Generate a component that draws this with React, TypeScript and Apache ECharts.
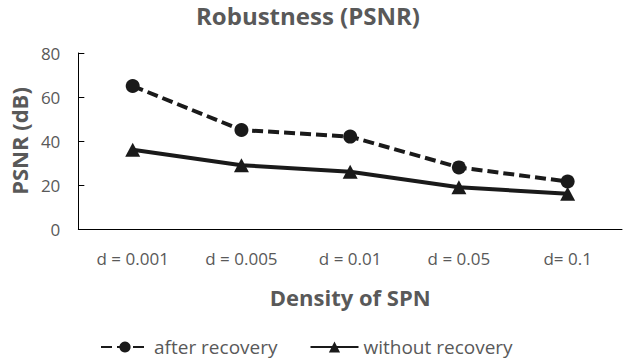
import React, { useEffect, useRef } from "react";
import * as echarts from "echarts";

const categories = ["d = 0.001", "d = 0.005", "d = 0.01", "d = 0.05", "d= 0.1"];
const afterRecovery = [65, 45, 42, 28, 21.6];
const withoutRecovery = [36, 29, 26, 19, 16];
const yTicks = { min: 0, max: 80, interval: 20 };

const FONT = "'Open Sans', sans-serif";
const GREY = "#595959";
const INK = "#1a1a1a";

export default function App() {
  const ref = useRef<HTMLDivElement>(null);
  useEffect(() => {
    if (!ref.current) return;
    const chart = echarts.init(ref.current, undefined, { renderer: "svg" });
    chart.setOption({
      animation: false,
      textStyle: { fontFamily: FONT },
      graphic: [
        {
          type: "text",
          x: 308,
          y: 15,
          style: {
            text: "Robustness (PSNR)",
            fill: GREY,
            font: `bold 24px ${FONT}`,
            textAlign: "center",
            textVerticalAlign: "middle",
          },
        },
      ],
      grid: { left: 74, right: 5, top: 53, bottom: 134, containLabel: false },
      legend: {
        left: 100,
        top: 336,
        padding: 0,
        itemWidth: 48,
        itemHeight: 14,
        itemGap: 32,
        textStyle: { color: GREY, fontSize: 19, fontFamily: FONT, lineHeight: 22 },
        data: ["after recovery", "without recovery"],
      },
      xAxis: {
        type: "category",
        data: categories,
        axisLine: { lineStyle: { color: "#000", width: 1 } },
        axisTick: { inside: true, length: 5, alignWithLabel: true, lineStyle: { color: "#000" } },
        axisLabel: { color: GREY, fontSize: 17, margin: 21, fontFamily: FONT },
        name: "Density of SPN",
        nameLocation: "middle",
        nameGap: 57,
        nameTextStyle: { color: GREY, fontSize: 22, fontWeight: "bold", fontFamily: FONT },
      },
      yAxis: {
        type: "value",
        min: yTicks.min,
        max: yTicks.max,
        interval: yTicks.interval,
        splitLine: { show: false },
        axisLine: { show: true, lineStyle: { color: "#000", width: 1 } },
        axisTick: { show: true, inside: true, length: 6, lineStyle: { color: "#000" } },
        axisLabel: { color: GREY, fontSize: 17, margin: 18, fontFamily: FONT },
        name: "PSNR (dB)",
        nameLocation: "middle",
        nameRotate: 90,
        nameGap: 47,
        nameTextStyle: { color: GREY, fontSize: 22, fontWeight: "bold", fontFamily: FONT },
      },
      series: [
        {
          name: "after recovery",
          type: "line",
          data: afterRecovery,
          symbol: "circle",
          symbolSize: 14,
          lineStyle: { type: [11, 5], width: 4, color: INK },
          itemStyle: { color: INK },
        },
        {
          name: "without recovery",
          type: "line",
          data: withoutRecovery,
          symbol: "triangle",
          symbolSize: [15, 14],
          lineStyle: { type: "solid", width: 4, color: INK },
          itemStyle: { color: INK },
        },
      ],
    });
    return () => chart.dispose();
  }, []);
  return <div ref={ref} style={{ width: 627, height: 363, position: "absolute", left: 0, top: 0 }} />;
}
